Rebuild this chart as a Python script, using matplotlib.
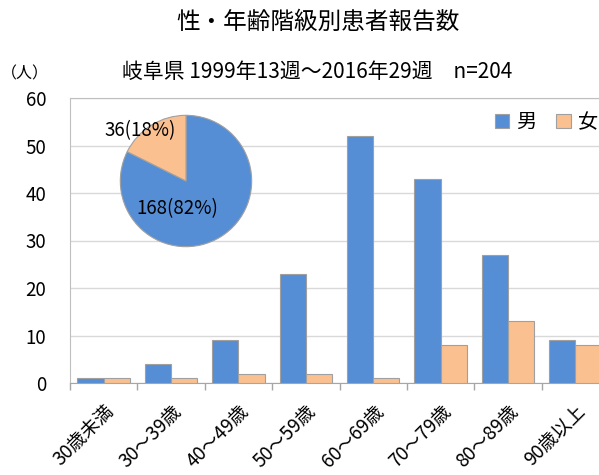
import matplotlib
matplotlib.use("Agg")
import matplotlib.pyplot as plt
import numpy as np

plt.rcParams['font.family'] = ['Noto Sans CJK JP', 'DejaVu Sans']

categories = ["30歳未満", "30～39歳", "40～49歳", "50～59歳", "60～69歳", "70～79歳", "80～89歳", "90歳以上"]
male = [1, 4, 9, 23, 52, 43, 27, 9]
female = [1, 1, 2, 2, 1, 8, 13, 8]
pie_values = [168, 36]
pie_labels = ["168(82%)", "36(18%)"]
series_names = ["男", "女"]
title = "性・年齢階級別患者報告数"
subtitle = "岐阜県 1999年13週～2016年29週　n=204"
yticks = [0, 10, 20, 30, 40, 50, 60]

blue = '#558ED5'
peach = '#FAC090'
edge = '#A0A0A0'

W, H = 599, 475
fig = plt.figure(figsize=(W/100, H/100), dpi=100)

left, right, top, bottom = 70, 609, 98, 383
ax = fig.add_axes([left/W, 1-bottom/H, (right-left)/W, (bottom-top)/H])

x = np.arange(len(categories))
bw = 0.39
ax.bar(x - bw/2, male, bw, color=blue, edgecolor=edge, linewidth=0.8, label=series_names[0], zorder=3)
ax.bar(x + bw/2, female, bw, color=peach, edgecolor=edge, linewidth=0.8, label=series_names[1], zorder=3)

ax.set_xlim(-0.5, len(categories) - 0.5)
ax.set_ylim(0, 60)
ax.set_yticks(yticks)
ax.tick_params(axis='y', length=0, labelsize=13.5, pad=17)
ax.yaxis.grid(True, color='#D9D9D9', linewidth=1, zorder=0)
ax.set_axisbelow(True)

ax.set_xticks(x)
ax.set_xticklabels(categories, rotation=45, ha='right', rotation_mode='anchor', fontsize=13.5)
ax.tick_params(axis='x', which='major', length=0, pad=13)
ax.set_xticks(np.arange(-0.5, len(categories) + 0.5, 1), minor=True)
ax.tick_params(axis='x', which='minor', length=5, color='#A6A6A6', width=1)

for s in ['left', 'top', 'right']:
    ax.spines[s].set_color('#BFBFBF')
ax.spines['bottom'].set_color('#A6A6A6')

leg = ax.legend(loc='upper left', bbox_to_anchor=((495-left)/(right-left), 1 - (112-top)/(bottom-top)),
                ncol=2, frameon=False, fontsize=14.5, handlelength=0.7, handleheight=0.7,
                handletextpad=0.35, columnspacing=1.0, borderaxespad=0, borderpad=0)

# pie inset
cx, cy, r = 186, 181, 67
pax = fig.add_axes([(cx-r)/W, 1-(cy+r)/H, 2*r/W, 2*r/H])
pax.pie(pie_values, colors=[blue, peach], startangle=90, counterclock=False,
        wedgeprops=dict(edgecolor='#A0A0A0', linewidth=0.8))
pax.set_aspect('equal')
pax.set_xlim(-1.02, 1.02)
pax.set_ylim(-1.02, 1.02)
pax.text(-0.13, -0.42, pie_labels[0], ha='center', va='center', fontsize=13.5)
fig.text(140/W, 1-131/H, pie_labels[1], ha='center', va='center', fontsize=13.5)

fig.text(318/W, 1-22/H, title, ha='center', va='center', fontsize=17)
fig.text(317/W, 1-72/H, subtitle, ha='center', va='center', fontsize=15)
fig.text(25/W, 1-74/H, "（人）", ha='center', va='center', fontsize=11.5)

fig.savefig('out.png', dpi=100)
